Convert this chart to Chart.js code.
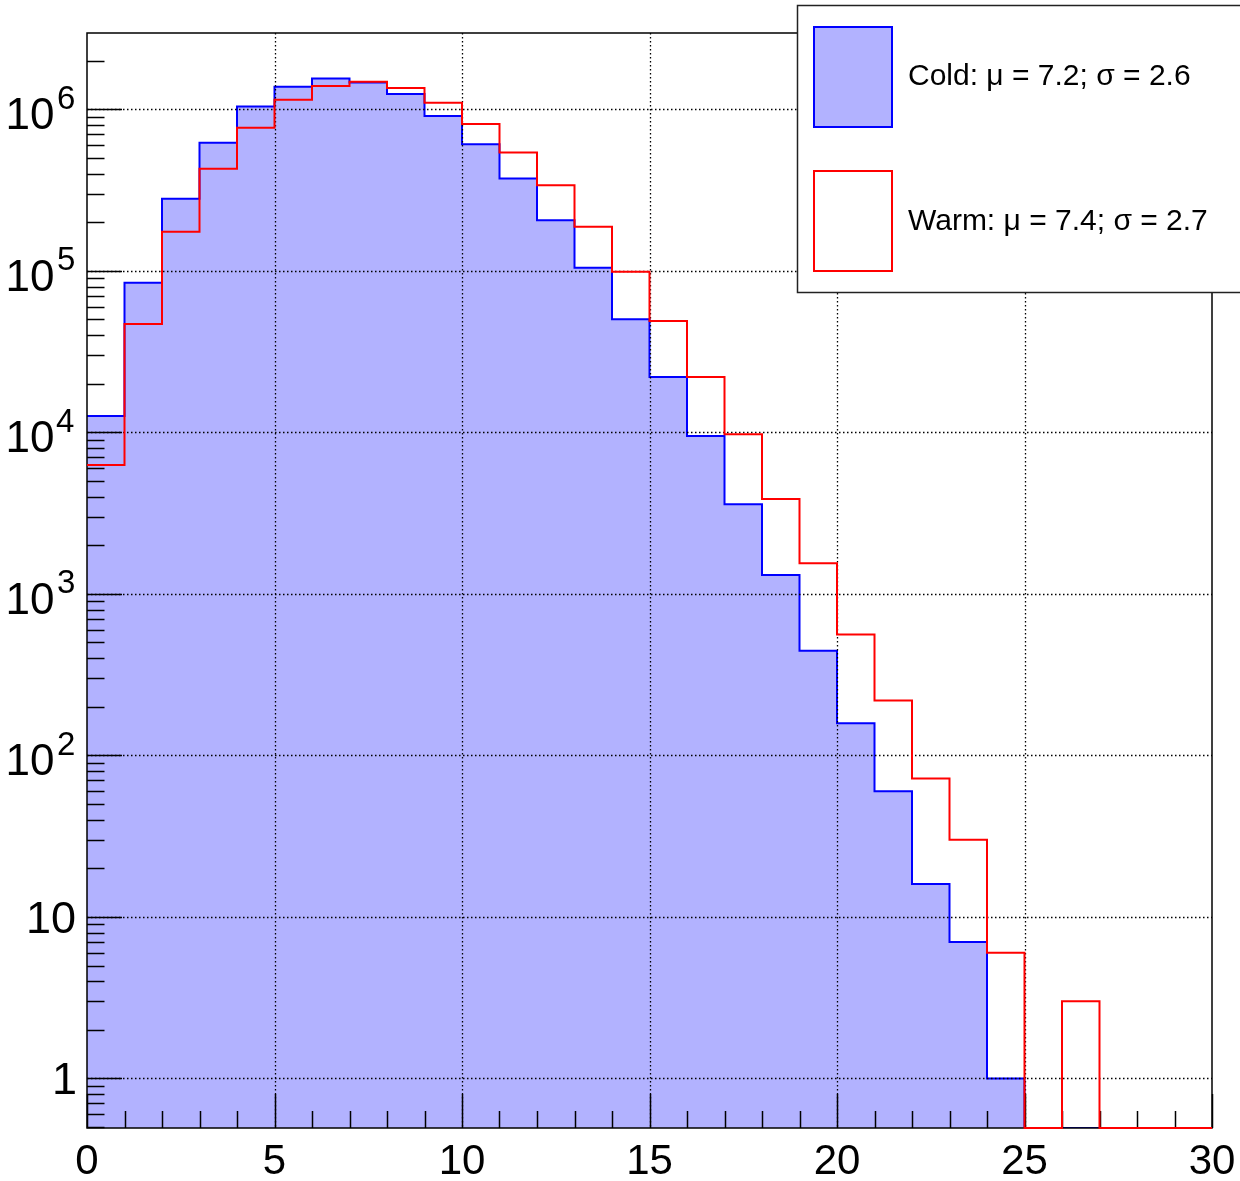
<!DOCTYPE html>
<html>
<head>
<meta charset="utf-8">
<title>Cold vs Warm</title>
<script src="https://cdn.jsdelivr.net/npm/chart.js@4.4.1/dist/chart.umd.min.js"></script>
<style>
    html, body { margin: 0; padding: 0; background: #fff; }
    #wrap { width: 1240px; height: 1181px; }
</style>
</head>
<body>
<div id="wrap"><canvas id="histChart" width="1240" height="1181"></canvas></div>
<script>
// =============================================
// data: 30 bins of width 1, from 0 to 30
// =============================================

const binEdges = [0, 1, 2, 3, 4, 5, 6, 7, 8, 9, 10, 11, 12, 13, 14, 15,
    16, 17, 18, 19, 20, 21, 22, 23, 24, 25, 26, 27, 28, 29, 30];

const coldCounts = [12640, 84450, 279700, 621300, 1043000, 1380000, 1555000,
    1469000, 1243000, 909000, 607000, 373000, 205800, 104600, 50130, 22030,
    9505, 3590, 1311, 444, 158, 60, 16, 7, 1, 0, 0, 0, 0, 0];

const warmCounts = [6285, 46880, 174700, 428900, 769000, 1146000, 1394000,
    1482000, 1354000, 1098000, 811000, 541500, 339000, 187600, 98790, 48940,
    22030, 9750, 3871, 1549, 560, 219, 72, 30, 6, 0, 3, 0, 0, 0];

const xTickLabels = ["0", "5", "10", "15", "20", "25", "30"];
const yTickValues = [1, 10, 100, 1000, 10000, 100000, 1000000];
const yTickLabels = ["1", "10", "10^2", "10^3", "10^4", "10^5", "10^6"];
const legendLabels = ["Cold: \u03bc = 7.2; \u03c3 = 2.6", "Warm: \u03bc = 7.4; \u03c3 = 2.7"];

const Y_MIN = 0.493;
const Y_MAX = 2.97e6;
const FONT = "'Liberation Sans', Arial, Helvetica, sans-serif";
const COLD_FILL = "rgb(178,178,255)";

// empty bins sit on the bottom of the frame (log axis)
function stepPoints(counts) {
    var pts = [];
    for (var i = 0; i < counts.length; i++) {
        pts.push({ x: binEdges[i], y: counts[i] > 0 ? counts[i] : Y_MIN });
    }
    var last = counts[counts.length - 1];
    pts.push({ x: binEdges[counts.length], y: last > 0 ? last : Y_MIN });
    return pts;
}

// grid, frame and ROOT style inner ticks, drawn over the blue fill
function drawGridAndTicks(chart) {
    var ctx = chart.ctx;
    var area = chart.chartArea;
    var xs = chart.scales.x;
    var ys = chart.scales.y;

    ctx.save();
    ctx.strokeStyle = "#000";
    ctx.lineWidth = 1.3;
    ctx.setLineDash([1.5, 2.5]);
    ctx.beginPath();
    xs.ticks.forEach(function(t) {
        if (t.value <= xs.min || t.value >= xs.max) return;
        var px = Math.round(xs.getPixelForValue(t.value)) + 0.5;
        ctx.moveTo(px, area.top);
        ctx.lineTo(px, area.bottom);
    });
    yTickValues.forEach(function(v) {
        var py = Math.round(ys.getPixelForValue(v)) + 0.5;
        ctx.moveTo(area.left, py);
        ctx.lineTo(area.right, py);
    });
    ctx.stroke();

    ctx.setLineDash([]);
    ctx.lineWidth = 1.5;
    ctx.strokeRect(area.left, area.top, area.right - area.left, area.bottom - area.top);

    ctx.beginPath();
    for (var k = 0; k < binEdges.length; k++) {
        var px = Math.round(xs.getPixelForValue(binEdges[k])) + 0.5;
        var len = binEdges[k] % 5 === 0 ? 34 : 17;
        ctx.moveTo(px, area.bottom);
        ctx.lineTo(px, area.bottom - len);
    }
    for (var e = -1; e <= 6; e++) {
        for (var m = 1; m <= 9; m++) {
            var v = m * Math.pow(10, e);
            if (v < ys.min || v > ys.max) continue;
            var py = Math.round(ys.getPixelForValue(v)) + 0.5;
            var l = m === 1 ? 35 : 17.5;
            ctx.moveTo(area.left, py);
            ctx.lineTo(area.left + l, py);
        }
    }
    ctx.stroke();
    ctx.restore();
}

function drawYLabels(chart) {
    var ctx = chart.ctx;
    var ys = chart.scales.y;
    ctx.save();
    ctx.fillStyle = "#000";
    ctx.textAlign = "left";
    ctx.textBaseline = "alphabetic";
    for (var i = 0; i < yTickValues.length; i++) {
        var py = ys.getPixelForValue(yTickValues[i]);
        var parts = yTickLabels[i].split("^");
        if (parts.length === 2) {
            ctx.font = "33px " + FONT;
            var m2 = ctx.measureText(parts[1]);
            ctx.fillText(parts[1], 74 - m2.actualBoundingBoxRight, py - 0.5);
            ctx.font = "44px " + FONT;
            var m1 = ctx.measureText(parts[0]);
            ctx.fillText(parts[0], 53 - m1.actualBoundingBoxRight, py + 20);
        } else {
            ctx.font = "45px " + FONT;
            var m = ctx.measureText(parts[0]);
            ctx.fillText(parts[0], 75 - m.actualBoundingBoxRight, py + 16);
        }
    }
    ctx.restore();
}

function drawLegend(chart) {
    var ctx = chart.ctx;
    ctx.save();
    ctx.fillStyle = "#fff";
    ctx.fillRect(797, 5, 460, 288);
    ctx.strokeStyle = "#222";
    ctx.lineWidth = 1.5;
    ctx.strokeRect(797.5, 5.5, 460, 287);

    ctx.fillStyle = COLD_FILL;
    ctx.fillRect(814, 27, 78, 100);
    ctx.strokeStyle = "#0000ff";
    ctx.lineWidth = 2;
    ctx.strokeRect(814, 27, 78, 100);
    ctx.strokeStyle = "#ff0000";
    ctx.strokeRect(814, 171, 78, 100);

    ctx.fillStyle = "#000";
    ctx.font = "30px " + FONT;
    ctx.textAlign = "left";
    ctx.textBaseline = "alphabetic";
    ctx.fillText(legendLabels[0], 908, 85);
    ctx.fillText(legendLabels[1], 908, 230);
    ctx.restore();
}

const rootStylePlugin = {
    id: "rootStyle",
    beforeDatasetDraw: function(chart, args) {
        // grid + frame go between the filled cold histogram and the warm line
        if (args.index === 1) drawGridAndTicks(chart);
    },
    afterDraw: function(chart) {
        drawYLabels(chart);
        drawLegend(chart);
    },
};

document.addEventListener("DOMContentLoaded", function() {
    var ctx = document.getElementById("histChart");

    new Chart(ctx, {
        type: "line",
        data: {
            datasets: [{
                    label: legendLabels[0],
                    data: stepPoints(coldCounts),
                    stepped: "before",
                    borderColor: "#0000ff",
                    borderWidth: 2,
                    backgroundColor: COLD_FILL,
                    fill: "start",
                    pointRadius: 0,
                    order: 2,
                },
                {
                    label: legendLabels[1],
                    data: stepPoints(warmCounts),
                    stepped: "before",
                    borderColor: "#ff0000",
                    borderWidth: 2,
                    fill: false,
                    pointRadius: 0,
                    clip: 2,
                    order: 1,
                },
            ],
        },
        options: {
            responsive: false,
            animation: false,
            layout: { padding: { left: 87, top: 33, right: 28, bottom: 0 } },
            plugins: {
                legend: { display: false },
                tooltip: { enabled: false },
            },
            scales: {
                x: {
                    type: "linear",
                    min: 0,
                    max: 30,
                    grid: { display: false, drawTicks: false },
                    border: { display: false },
                    ticks: {
                        stepSize: 5,
                        autoSkip: false,
                        maxRotation: 0,
                        padding: 9,
                        color: "#000",
                        font: { family: FONT, size: 42 },
                        callback: function(v) {
                            return xTickLabels[Math.round(v / 5)];
                        },
                    },
                    afterFit: function(scale) {
                        scale.height = 53;
                        scale.paddingLeft = 0;
                        scale.paddingRight = 0;
                    },
                },
                y: {
                    type: "logarithmic",
                    min: Y_MIN,
                    max: Y_MAX,
                    display: false,
                },
            },
        },
        plugins: [rootStylePlugin],
    });
});
</script>
</body>
</html>
